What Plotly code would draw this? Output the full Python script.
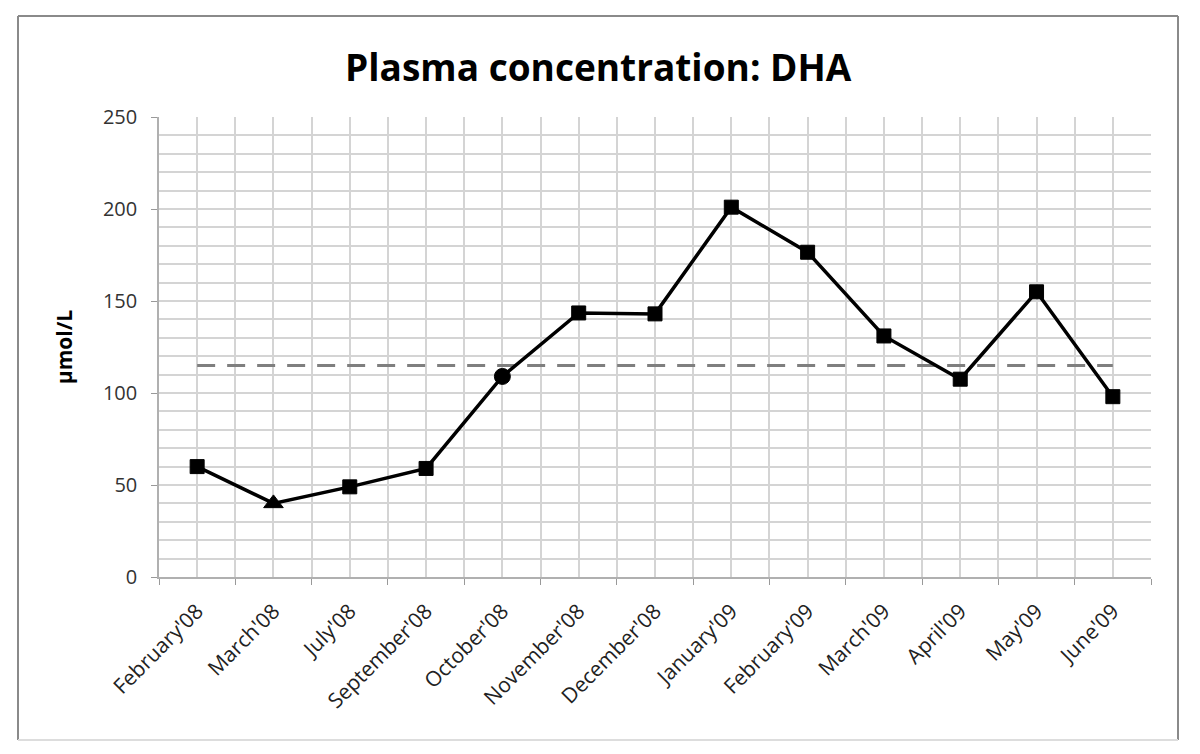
import plotly.graph_objects as go

categories = ["February'08", "March'08", "July'08", "September'08", "October'08",
              "November'08", "December'08", "January'09", "February'09", "March'09",
              "April'09", "May'09", "June'09"]
dha_values = [60, 40, 49, 59, 109, 143.5, 143, 201, 176.5, 131, 107.5, 155, 98]
marker_symbols = ["square", "triangle-up", "square", "square", "circle",
                  "square", "square", "square", "square", "square",
                  "square", "square", "square"]
marker_sizes = [14, 17, 14, 14, 16, 14, 14, 14, 14, 14, 14, 14, 14]
reference_value = 115
reference_values = [reference_value] * len(categories)

x_idx = list(range(len(categories)))

fig = go.Figure()
fig.add_trace(go.Scatter(
    x=x_idx, y=reference_values, mode="lines",
    line=dict(color="#7f7f7f", width=3, dash="18px,12px"),
    hoverinfo="skip", showlegend=False))
fig.add_trace(go.Scatter(
    x=x_idx, y=dha_values, mode="lines+markers",
    line=dict(color="black", width=3.5),
    marker=dict(symbol=marker_symbols, size=marker_sizes, color="black",
                opacity=1, line=dict(color="black", width=1)),
    showlegend=False))

font_family = "Open Sans, DejaVu Sans, sans-serif"

fig.update_layout(
    width=1200, height=754,
    margin=dict(l=159, r=49, t=117, b=177),
    paper_bgcolor="white", plot_bgcolor="white",
    title=dict(text="<b>Plasma concentration: DHA</b>", x=0.4985, xanchor="center",
               y=0.910, yanchor="middle",
               font=dict(family=font_family, size=37, color="black")),
    xaxis=dict(
        range=[-0.5, len(categories) - 0.5],
        tickmode="array", tickvals=x_idx, ticktext=categories,
        tickangle=-45, ticks="", ticklabelstandoff=12,
        tickfont=dict(family=font_family, size=21, color="#222222"),
        showgrid=True, gridcolor="#d4d4d4", gridwidth=1.5,
        showline=True, linecolor="#b0b0b0", linewidth=1.5,
        zeroline=False,
        minor=dict(tickvals=[i - 0.5 for i in range(len(categories) + 1)],
                   ticks="outside", ticklen=6, tickcolor="#999999",
                   showgrid=True, gridcolor="#d4d4d4", gridwidth=1.5),
    ),
    yaxis=dict(
        range=[0, 250], dtick=50, tick0=0,
        ticks="outside", ticklen=6, tickcolor="#999999", ticklabelstandoff=10,
        tickfont=dict(family=font_family, size=20, color="#333333"),
        showgrid=True, gridcolor="#d4d4d4", gridwidth=1.5,
        showline=True, linecolor="#b0b0b0", linewidth=1.5,
        zeroline=False,
        minor=dict(dtick=10, showgrid=True, gridcolor="#d4d4d4", gridwidth=1.5),
        title=dict(text="<b>µmol/L</b>", standoff=25,
                   font=dict(family=font_family, size=21, color="black")),
    ),
)

# outer chart frame
pw, ph = 992.0, 460.0
fx0 = (18 - 159) / pw
fx1 = (1178 - 159) / pw
fy0 = (577 - 740) / ph
fy1 = (577 - 16) / ph
dark = dict(color="#8a8a8a", width=2)
light = dict(color="#dddddd", width=2)
fig.add_shape(type="line", xref="paper", yref="paper", x0=fx0, x1=fx0, y0=fy0, y1=fy1, line=dark)
fig.add_shape(type="line", xref="paper", yref="paper", x0=fx0, x1=fx1, y0=fy1, y1=fy1, line=dark)
fig.add_shape(type="line", xref="paper", yref="paper", x0=fx1, x1=fx1, y0=fy0, y1=fy1, line=dark)
fig.add_shape(type="line", xref="paper", yref="paper", x0=fx0, x1=fx1, y0=fy0, y1=fy0, line=light)

fig.write_html("out.html", config={"displayModeBar": False},
               post_script="document.body.style.margin='0';")
